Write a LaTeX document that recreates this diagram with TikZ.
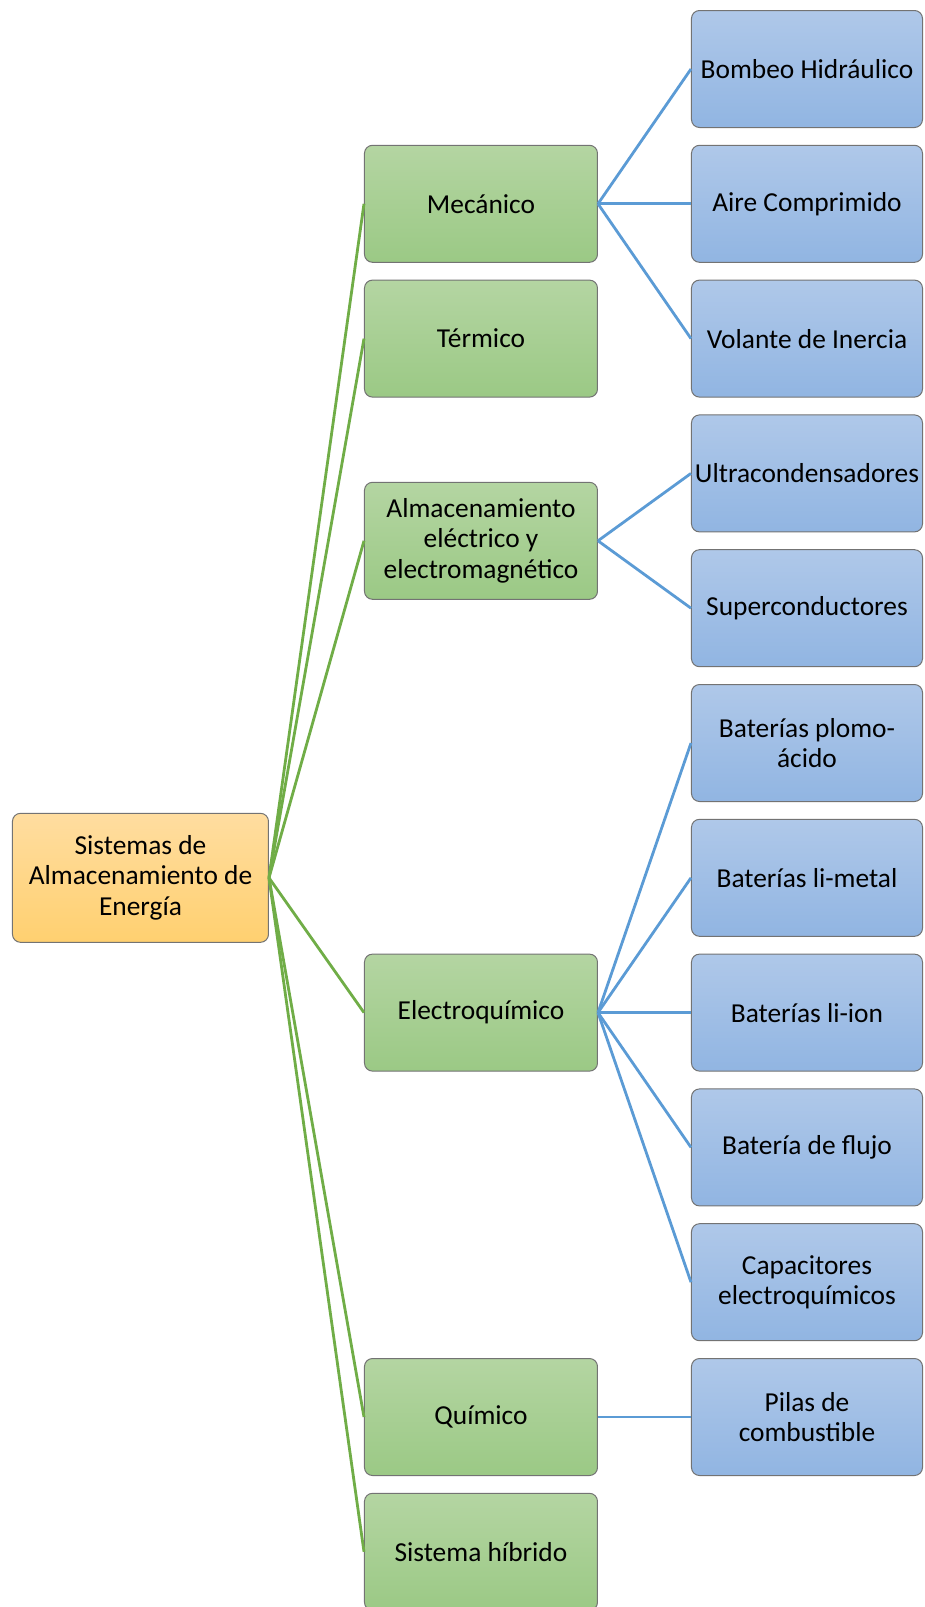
\documentclass[tikz,border=0pt]{standalone}
\usepackage{fontspec}
\setmainfont{Carlito}
\usetikzlibrary{positioning, calc}
\definecolor{grtop}{HTML}{B4D5A2}
\definecolor{grbot}{HTML}{9BC985}
\definecolor{bltop}{HTML}{AFC8E9}
\definecolor{blbot}{HTML}{91B5E2}
\definecolor{ortop}{HTML}{FFDDA0}
\definecolor{orbot}{HTML}{FFD070}
\definecolor{grline}{HTML}{70AD47}
\definecolor{blline}{HTML}{5B9BD5}
\tikzset{
  treenode/.style={
    rectangle, draw=black!55, line width=0.5pt, rounded corners=4pt,
    minimum width=115.5pt, minimum height=58.5pt, inner sep=1pt,
    align=center, font=\fontsize{13.7}{15.2}\selectfont
  },
  rootbox/.style={treenode, minimum width=128pt, minimum height=64.5pt, top color=ortop, bottom color=orbot},
  catbox/.style={treenode, minimum width=116.5pt, top color=grtop, bottom color=grbot},
  leafbox/.style={treenode, top color=bltop, bottom color=blbot},
  gline/.style={grline, line width=1.4pt},
  bline/.style={blline, line width=1.4pt}
}

\begin{document}
\begin{tikzpicture}
    % right column
    \node[leafbox] (bombeo) {Bombeo Hidráulico};
    \node[leafbox, below=8.4pt of bombeo] (aire) {Aire Comprimido};
    \node[leafbox, below=8.4pt of aire] (volante) {Volante de Inercia};
    \node[leafbox, below=8.4pt of volante] (ultra) {Ultracondensadores};
    \node[leafbox, below=8.4pt of ultra] (super) {Superconductores};
    \node[leafbox, below=8.4pt of super] (plomo) {Baterías plomo-\\ácido};
    \node[leafbox, below=8.4pt of plomo] (limetal) {Baterías li-metal};
    \node[leafbox, below=8.4pt of limetal] (liion) {Baterías li-ion};
    \node[leafbox, below=8.4pt of liion] (flujo) {Batería de flujo};
    \node[leafbox, below=8.4pt of flujo] (capac) {Capacitores\\electroquímicos};
    \node[leafbox, below=8.4pt of capac] (pilas) {Pilas de\\combustible};
    % middle column
    \node[catbox, left=46.5pt of aire] (mec) {Mecánico};
    \node[catbox, left=46.5pt of volante] (term) {Térmico};
    \coordinate (elmid) at ($(ultra.west)!0.5!(super.west)$);
    \node[catbox, left=46.5pt of elmid] (elec) {Almacenamiento\\eléctrico y\\electromagnético};
    \node[catbox, left=46.5pt of liion] (echem) {Electroquímico};
    \node[catbox, left=46.5pt of pilas] (quim) {Químico};
    \node[catbox, below=8.4pt of quim] (hib) {Sistema híbrido};
    % root
    \coordinate (rootpt) at (mec.west |- limetal.west);
    \node[rootbox, left=47.5pt of rootpt] (root) {Sistemas de\\Almacenamiento de\\Energía};
    \pgfresetboundingbox
    \useasboundingbox ($(root.west |- bombeo.north)+(-6pt,5pt)$) rectangle ($(bombeo.north east)+(1pt,-798.5pt)$);
    % connectors
    \foreach \c in {mec,term,elec,echem,quim,hib}
      \draw[gline] (root.east) -- (\c.west);
    \foreach \c in {bombeo,aire,volante}
      \draw[bline] (mec.east) -- (\c.west);
    \foreach \c in {ultra,super}
      \draw[bline] (elec.east) -- (\c.west);
    \foreach \c in {plomo,limetal,liion,flujo,capac}
      \draw[bline] (echem.east) -- (\c.west);
    \draw[bline] (quim.east) -- (pilas.west);
\end{tikzpicture}
\end{document}
